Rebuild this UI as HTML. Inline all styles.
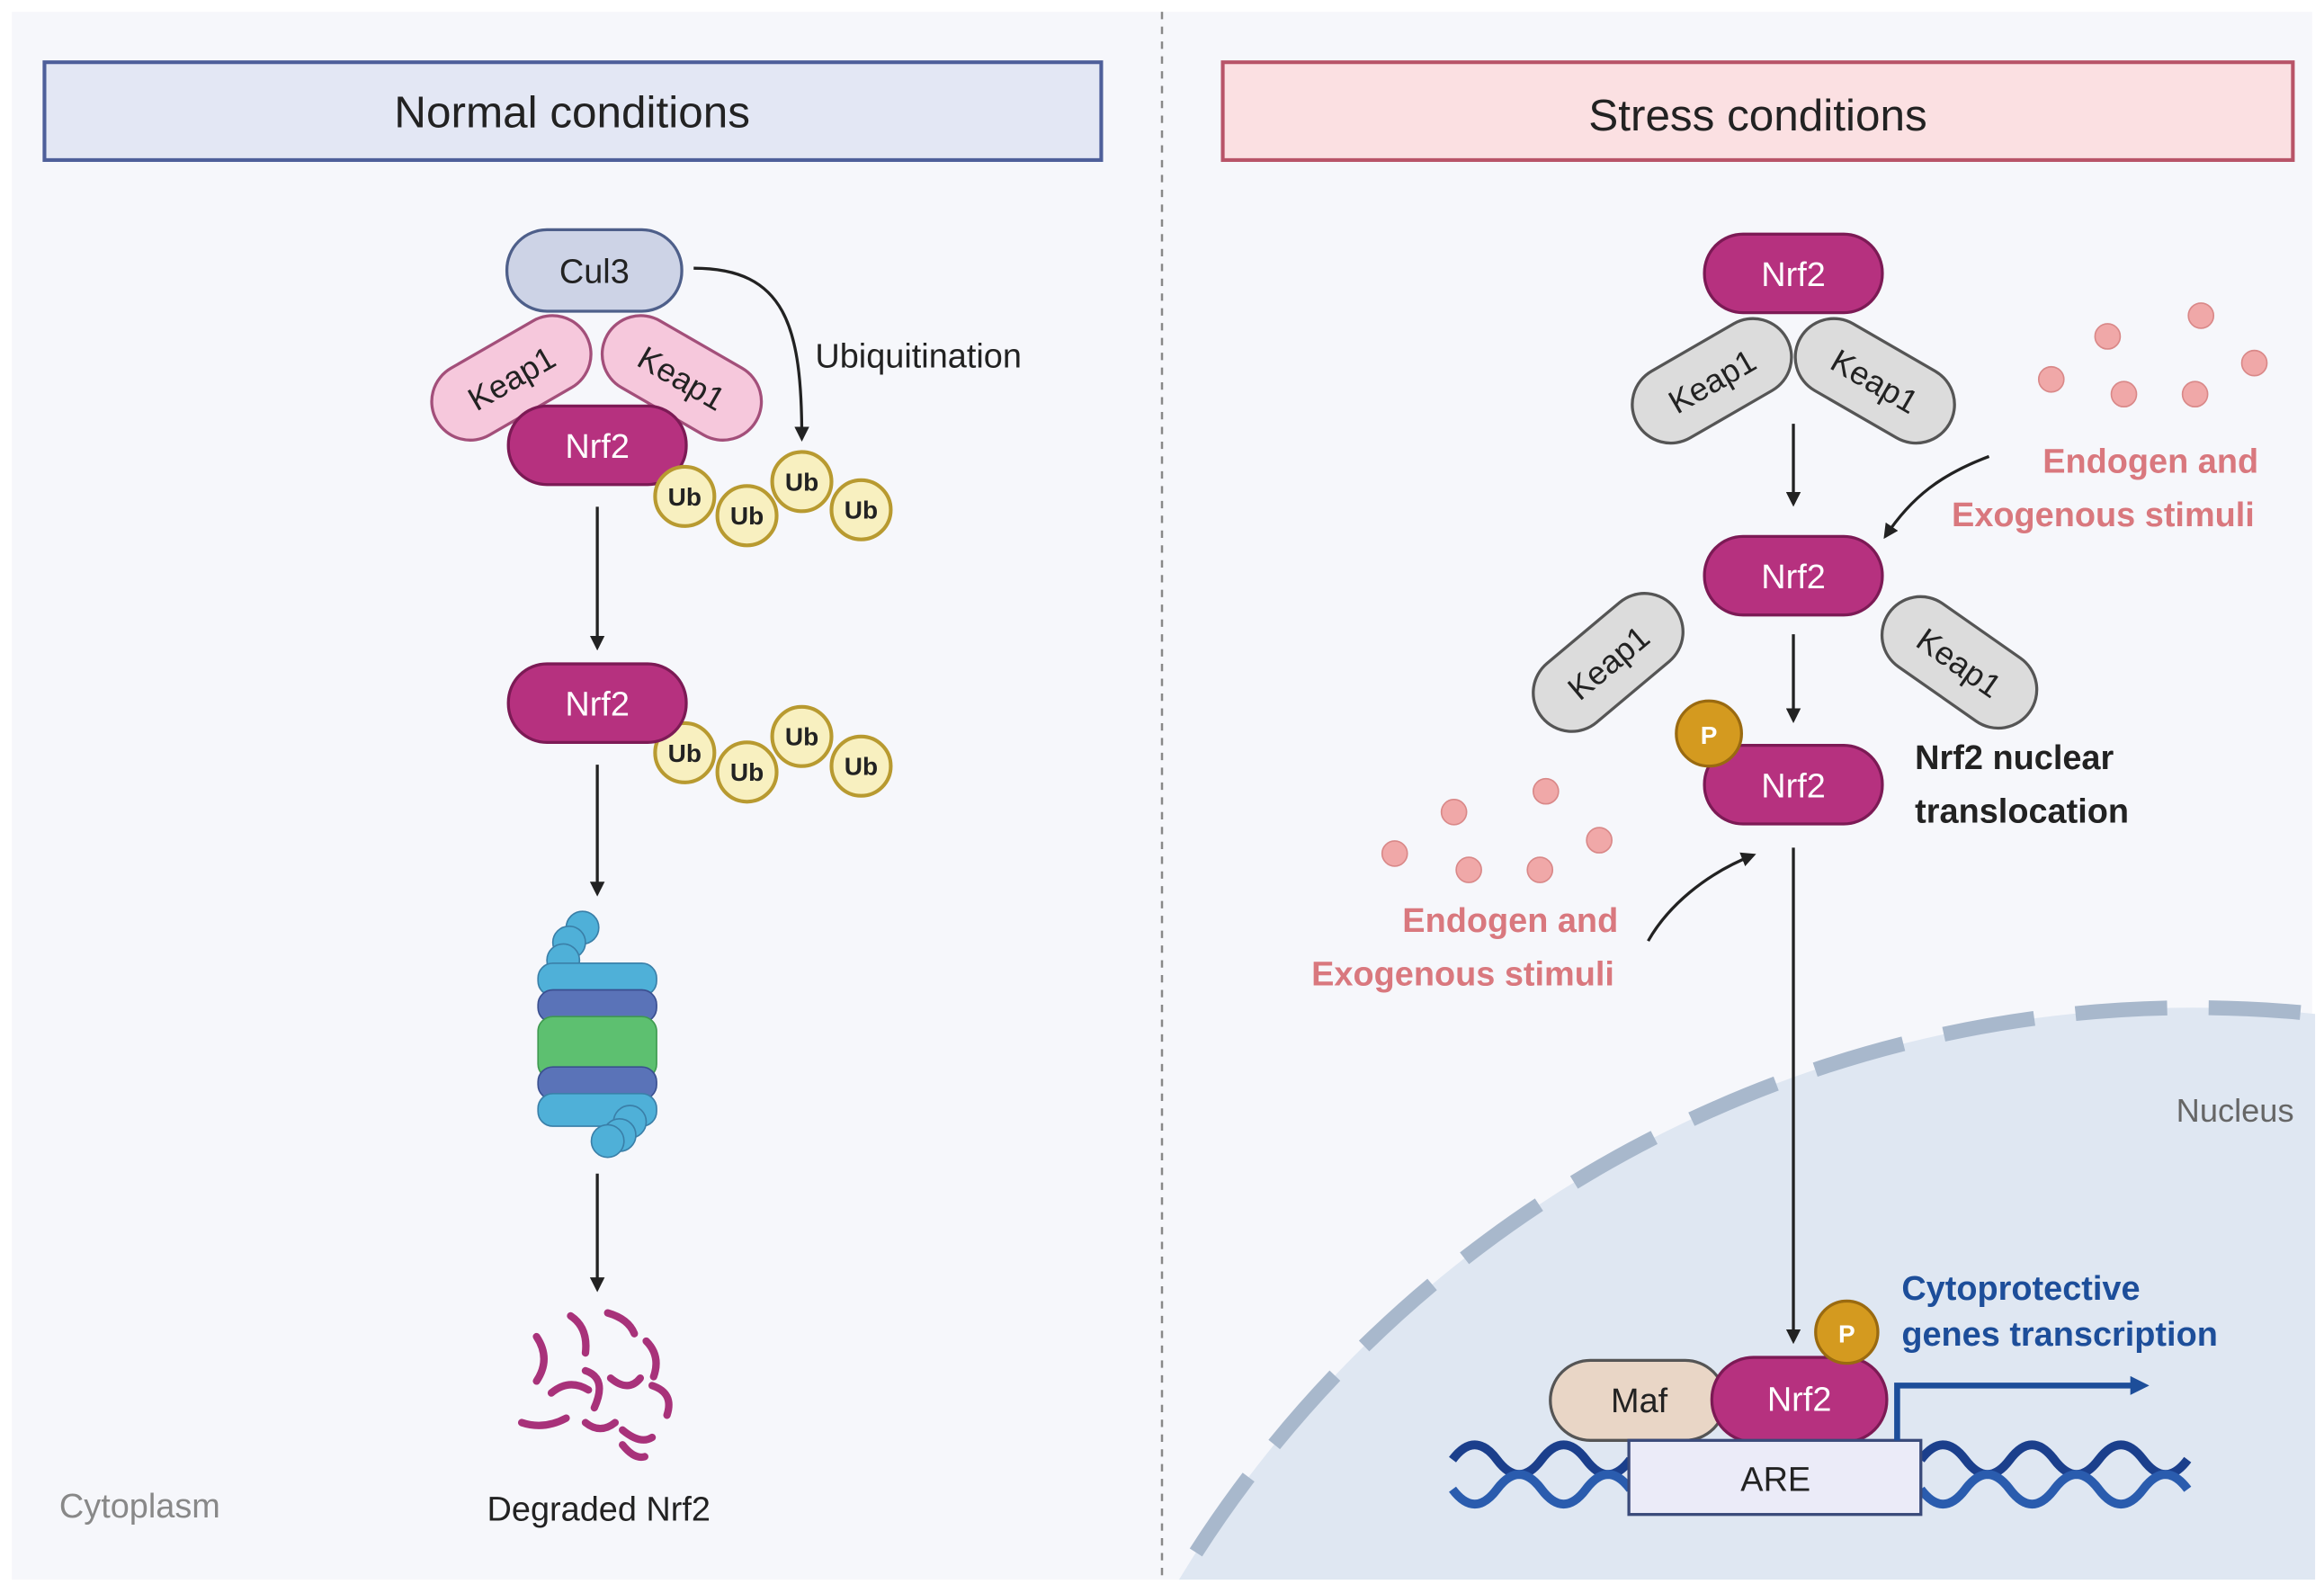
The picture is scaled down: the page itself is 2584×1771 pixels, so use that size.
<!DOCTYPE html>
<html><head><meta charset="utf-8"><style>
html,body{margin:0;padding:0;background:#fff;width:2584px;height:1771px;overflow:hidden}
svg{display:block;font-family:"Liberation Sans",sans-serif}
</style></head><body>
<svg width="2584" height="1771" viewBox="0 0 1568 1075" preserveAspectRatio="none" xmlns="http://www.w3.org/2000/svg">
<defs>
<marker id="ar" viewBox="0 0 10 10" refX="8" refY="5" markerWidth="5" markerHeight="5" orient="auto"><path d="M0,0L10,5L0,10z" fill="#222"/></marker>
<marker id="ab" viewBox="0 0 10 10" refX="6" refY="5" markerWidth="3.2" markerHeight="3.2" orient="auto"><path d="M0,0L10,5L0,10z" fill="#1d4e9a"/></marker>
<clipPath id="rp"><rect x="786" y="8" width="776" height="1058"/></clipPath>
</defs>
<rect x="0" y="0" width="1568" height="1075" fill="#fff"/>
<rect x="8" y="8" width="1552" height="1058" fill="#f6f7fb"/>
<line x1="784" y1="8" x2="784" y2="1066" stroke="#888" stroke-width="1.5" stroke-dasharray="5,5"/>
<g clip-path="url(#rp)">
<circle cx="1480" cy="1480" r="800" fill="#dfe7f2" stroke="#a8b8cc" stroke-width="10" stroke-dasharray="62,28"/>
</g>
<text x="1508" y="757" font-size="22" fill="#666" text-anchor="middle">Nucleus</text>
<rect x="30" y="42" width="713" height="66" fill="#e3e7f4" stroke="#4e5f9a" stroke-width="2.5"/>
<text x="386" y="86" font-size="30" text-anchor="middle" fill="#222">Normal conditions</text>
<rect x="825" y="42" width="722" height="66" fill="#fbe0e2" stroke="#b85468" stroke-width="2.5"/>
<text x="1186" y="88" font-size="30" text-anchor="middle" fill="#222">Stress conditions</text>
<g transform="translate(345,255) rotate(-30)"><rect x="-58" y="-26" width="116" height="52" rx="26" fill="#f6c8dc" stroke="#a34f7a" stroke-width="2"/><text y="8" font-size="22" text-anchor="middle" fill="#222">Keap1</text></g>
<g transform="translate(460,255) rotate(30)"><rect x="-58" y="-26" width="116" height="52" rx="26" fill="#f6c8dc" stroke="#a34f7a" stroke-width="2"/><text y="8" font-size="22" text-anchor="middle" fill="#222">Keap1</text></g>
<rect x="342" y="155" width="118" height="55" rx="27" fill="#cdd3e6" stroke="#4e5f8a" stroke-width="2"/>
<text x="401" y="191" font-size="23" text-anchor="middle" fill="#222">Cul3</text>
<rect x="343" y="274" width="120" height="53" rx="26" fill="#b6317f" stroke="#7c1a55" stroke-width="2"/>
<text x="403" y="309" font-size="23" text-anchor="middle" fill="#fff">Nrf2</text>
<path d="M468,181 C530,181 541,220 541,296" fill="none" stroke="#222" stroke-width="2" marker-end="url(#ar)"/>
<text x="550" y="248" font-size="23" fill="#222">Ubiquitination</text>
<g font-size="17" font-weight="bold" text-anchor="middle" fill="#222">
<g fill="#f8f0c0" stroke="#b89a30" stroke-width="2.5">
<circle cx="462" cy="335" r="20"/><circle cx="504" cy="348" r="20"/><circle cx="541" cy="325" r="20"/><circle cx="581" cy="344" r="20"/>
<circle cx="462" cy="508" r="20"/><circle cx="504" cy="521" r="20"/><circle cx="541" cy="497" r="20"/><circle cx="581" cy="517" r="20"/>
</g>
<text x="462" y="341">Ub</text><text x="504" y="354">Ub</text><text x="541" y="331">Ub</text><text x="581" y="350">Ub</text>
<text x="462" y="514">Ub</text><text x="504" y="527">Ub</text><text x="541" y="503">Ub</text><text x="581" y="523">Ub</text>
</g>
<line x1="403" y1="342" x2="403" y2="437" stroke="#222" stroke-width="2" marker-end="url(#ar)"/>
<rect x="343" y="448" width="120" height="53" rx="26" fill="#b6317f" stroke="#7c1a55" stroke-width="2"/>
<text x="403" y="483" font-size="23" text-anchor="middle" fill="#fff">Nrf2</text>
<line x1="403" y1="516" x2="403" y2="603" stroke="#222" stroke-width="2" marker-end="url(#ar)"/>
<g stroke-width="1" stroke="#3a7fa8">
<circle cx="393" cy="626" r="11" fill="#4fb0d8"/><circle cx="384" cy="636" r="11" fill="#4fb0d8"/><circle cx="380" cy="648" r="11" fill="#4fb0d8"/>
<rect x="363" y="650" width="80" height="22" rx="10" fill="#4fb0d8"/>
<rect x="363" y="668" width="80" height="22" rx="10" fill="#5a73b8" stroke="#3a4f90"/>
<rect x="363" y="686" width="80" height="42" rx="10" fill="#5dc070" stroke="#3f9a50"/>
<rect x="363" y="720" width="80" height="22" rx="10" fill="#5a73b8" stroke="#3a4f90"/>
<rect x="363" y="738" width="80" height="22" rx="10" fill="#4fb0d8"/>
<circle cx="425" cy="757" r="11" fill="#4fb0d8"/><circle cx="418" cy="766" r="11" fill="#4fb0d8"/><circle cx="410" cy="770" r="11" fill="#4fb0d8"/>
</g>
<line x1="403" y1="792" x2="403" y2="870" stroke="#222" stroke-width="2" marker-end="url(#ar)"/>
<g fill="none" stroke="#a8327a" stroke-width="5" stroke-linecap="round">
<path d="M362,902 q10,15 0,30"/><path d="M385,888 q12,8 10,25"/><path d="M410,886 q14,4 18,14"/><path d="M436,905 q10,10 5,24"/>
<path d="M372,940 q12,-10 25,-2"/><path d="M395,925 q15,5 6,25"/><path d="M412,930 q12,10 20,0"/><path d="M440,935 q15,5 10,20"/>
<path d="M352,960 q15,5 30,-3"/><path d="M395,960 q10,8 20,0"/><path d="M420,965 q12,10 20,5"/><path d="M420,975 q8,10 15,8"/>
</g>
<text x="404" y="1026" font-size="23" text-anchor="middle" fill="#222">Degraded Nrf2</text>
<text x="40" y="1024" font-size="23" fill="#888">Cytoplasm</text>
<g transform="translate(1155,257) rotate(-30)"><rect x="-58" y="-26" width="116" height="52" rx="26" fill="#dcdcdc" stroke="#555" stroke-width="2"/><text y="8" font-size="22" text-anchor="middle" fill="#222">Keap1</text></g>
<g transform="translate(1265,257) rotate(30)"><rect x="-58" y="-26" width="116" height="52" rx="26" fill="#dcdcdc" stroke="#555" stroke-width="2"/><text y="8" font-size="22" text-anchor="middle" fill="#222">Keap1</text></g>
<rect x="1150" y="158" width="120" height="53" rx="26" fill="#b6317f" stroke="#7c1a55" stroke-width="2"/>
<text x="1210" y="193" font-size="23" text-anchor="middle" fill="#fff">Nrf2</text>
<line x1="1210" y1="286" x2="1210" y2="340" stroke="#222" stroke-width="2" marker-end="url(#ar)"/>
<rect x="1150" y="362" width="120" height="53" rx="26" fill="#b6317f" stroke="#7c1a55" stroke-width="2"/>
<text x="1210" y="397" font-size="23" text-anchor="middle" fill="#fff">Nrf2</text>
<g transform="translate(1085,447) rotate(-40)"><rect x="-58" y="-26" width="116" height="52" rx="26" fill="#dcdcdc" stroke="#555" stroke-width="2"/><text y="8" font-size="22" text-anchor="middle" fill="#222">Keap1</text></g>
<g transform="translate(1322,447) rotate(35)"><rect x="-58" y="-26" width="116" height="52" rx="26" fill="#dcdcdc" stroke="#555" stroke-width="2"/><text y="8" font-size="22" text-anchor="middle" fill="#222">Keap1</text></g>
<line x1="1210" y1="428" x2="1210" y2="486" stroke="#222" stroke-width="2" marker-end="url(#ar)"/>
<rect x="1150" y="503" width="120" height="53" rx="26" fill="#b6317f" stroke="#7c1a55" stroke-width="2"/>
<text x="1210" y="538" font-size="23" text-anchor="middle" fill="#fff">Nrf2</text>
<circle cx="1153" cy="495" r="22" fill="#d49a1f" stroke="#9a6a10" stroke-width="2"/>
<text x="1153" y="502" font-size="17" font-weight="bold" text-anchor="middle" fill="#fff">P</text>
<text x="1292" y="519" font-size="23" font-weight="bold" fill="#222">Nrf2 nuclear</text>
<text x="1292" y="555" font-size="23" font-weight="bold" fill="#222">translocation</text>
<g fill="#f0a8a8" stroke="#d98888" stroke-width="1">
<circle cx="1422" cy="227" r="8.5"/><circle cx="1485" cy="213" r="8.5"/><circle cx="1384" cy="256" r="8.5"/><circle cx="1433" cy="266" r="8.5"/><circle cx="1481" cy="266" r="8.5"/><circle cx="1521" cy="245" r="8.5"/>
<circle cx="981" cy="548" r="8.5"/><circle cx="1043" cy="534" r="8.5"/><circle cx="941" cy="576" r="8.5"/><circle cx="991" cy="587" r="8.5"/><circle cx="1039" cy="587" r="8.5"/><circle cx="1079" cy="567" r="8.5"/>
</g>
<g font-size="23" font-weight="bold" fill="#d9787e" text-anchor="middle">
<text x="1451" y="319">Endogen and</text><text x="1419" y="355">Exogenous stimuli</text>
<text x="1019" y="629">Endogen and</text><text x="987" y="665">Exogenous stimuli</text>
</g>
<path d="M1342,308 C1310,320 1290,335 1272,362" fill="none" stroke="#222" stroke-width="2" marker-end="url(#ar)"/>
<path d="M1112,635 C1125,612 1150,590 1183,577" fill="none" stroke="#222" stroke-width="2" marker-end="url(#ar)"/>
<line x1="1210" y1="572" x2="1210" y2="905" stroke="#222" stroke-width="2" marker-end="url(#ar)"/>
<g fill="none" stroke-width="6">
<path d="M980,985 q15,-20 30,0 t30,0 t30,0 t30,0" stroke="#1b3f8c"/>
<path d="M980,1005 q15,20 30,0 t30,0 t30,0 t30,0" stroke="#2a5cae"/>
<path d="M1296,985 q15,-20 30,0 t30,0 t30,0 t30,0 t30,0 t30,0" stroke="#1b3f8c"/>
<path d="M1296,1005 q15,20 30,0 t30,0 t30,0 t30,0 t30,0 t30,0" stroke="#2a5cae"/>
</g>
<rect x="1046" y="918" width="118" height="54" rx="27" fill="#e9d6c6" stroke="#555" stroke-width="2"/>
<text x="1106" y="953" font-size="23" text-anchor="middle" fill="#222">Maf</text>
<rect x="1155" y="916" width="118" height="57" rx="28" fill="#b6317f" stroke="#7c1a55" stroke-width="2"/>
<text x="1214" y="952" font-size="23" text-anchor="middle" fill="#fff">Nrf2</text>
<circle cx="1246" cy="899" r="21" fill="#d49a1f" stroke="#9a6a10" stroke-width="2"/>
<text x="1246" y="906" font-size="17" font-weight="bold" text-anchor="middle" fill="#fff">P</text>
<rect x="1099" y="972" width="197" height="50" fill="#ebebf8" stroke="#3a4a7a" stroke-width="2"/>
<text x="1198" y="1006" font-size="23" text-anchor="middle" fill="#222">ARE</text>
<path d="M1280,972 V935 H1445" fill="none" stroke="#1d4e9a" stroke-width="4" marker-end="url(#ab)"/>
<g font-size="23" font-weight="bold" fill="#1d4e9a"><text x="1283" y="877">Cytoprotective</text><text x="1283" y="908">genes transcription</text></g>
</svg>
</body></html>
